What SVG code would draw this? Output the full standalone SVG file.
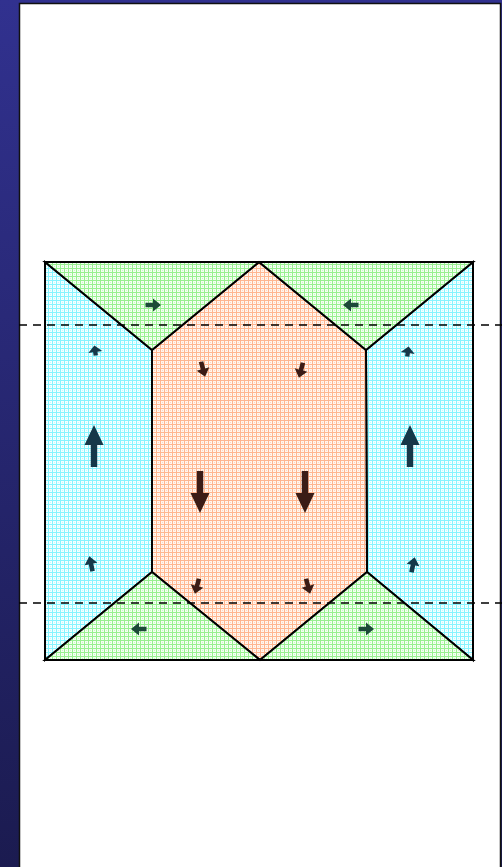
<svg xmlns="http://www.w3.org/2000/svg" width="502" height="867" viewBox="0 0 502 867">
  <style>
    .edge { stroke: #000; stroke-width: 2; stroke-linejoin: miter; }
    .dash { stroke: #000; stroke-width: 1.6; stroke-dasharray: 8 6; fill: none; }
    .ac { fill: #12394a; }
    .ag { fill: #1d4a38; }
    .ao { fill: #3a1c12; }
    .arr { filter: url(#soft); }
  </style>
  <defs>
    <linearGradient id="bg" x1="0" y1="0" x2="0" y2="1">
      <stop offset="0" stop-color="#31318f"/>
      <stop offset="1" stop-color="#1b1b50"/>
    </linearGradient>
    <pattern id="pc" width="4" height="4" patternUnits="userSpaceOnUse">
      <rect width="4" height="4" fill="#f4ffff"/>
      <rect width="4" height="1" fill="#86f4ff"/>
      <rect width="1" height="4" fill="#86f4ff"/>
      <rect x="2" y="2" width="1" height="1" fill="#c4fbff"/>
    </pattern>
    <pattern id="pg" width="4" height="4" patternUnits="userSpaceOnUse">
      <rect width="4" height="4" fill="#f4fff2"/>
      <rect width="4" height="1" fill="#98f090"/>
      <rect width="1" height="4" fill="#98f090"/>
      <rect x="2" y="2" width="1" height="1" fill="#ccf8c8"/>
    </pattern>
    <pattern id="po" width="4" height="4" patternUnits="userSpaceOnUse">
      <rect width="4" height="4" fill="#fff6ee"/>
      <rect width="4" height="1" fill="#ffb690"/>
      <rect width="1" height="4" fill="#ffb690"/>
      <rect x="2" y="2" width="1" height="1" fill="#ffd6c0"/>
    </pattern>
    <filter id="soft" x="-50%" y="-50%" width="200%" height="200%">
      <feGaussianBlur stdDeviation="0.7"/>
    </filter>
    <path id="big" d="M0,-21 L9.5,-1 L3.2,-1 L3.2,21 L-3.2,21 L-3.2,-1 L-9.5,-1 Z"/>
    <path id="small" d="M0,-8 L6.5,0 L2.3,0 L2.3,7.5 L-2.3,7.5 L-2.3,0 L-6.5,0 Z"/>
    <path id="tiny" d="M0,-4.5 L7,2 L2.2,2 L2.2,5.5 L-2.2,5.5 L-2.2,2 L-7,2 Z"/>
  </defs>

  <rect x="0" y="0" width="502" height="867" fill="url(#bg)"/>
  <rect id="panel" x="19.5" y="3.5" width="481" height="870" fill="#fff" stroke="#111" stroke-width="1.5"/>

  <g id="cyan-left">
    <polygon points="45,262 152,350 152,572 45,660" fill="url(#pc)" class="edge"/>
  </g>
  <g id="cyan-right">
    <polygon points="473,262 366,350 367,572 473,660" fill="url(#pc)" class="edge"/>
  </g>
  <g id="orange-center">
    <polygon points="259,262 366,350 367,572 260,660 152,572 152,350" fill="url(#po)" class="edge"/>
  </g>
  <g id="green-top-left">
    <polygon points="45,262 259,262 152,350" fill="url(#pg)" class="edge"/>
  </g>
  <g id="green-top-right">
    <polygon points="259,262 473,262 366,350" fill="url(#pg)" class="edge"/>
  </g>
  <g id="green-bottom-left">
    <polygon points="45,660 152,572 260,660" fill="url(#pg)" class="edge"/>
  </g>
  <g id="green-bottom-right">
    <polygon points="260,660 367,572 473,660" fill="url(#pg)" class="edge"/>
  </g>
  <g id="outline">
    <rect x="45" y="262" width="428" height="398" fill="none" class="edge"/>
  </g>

  <g id="arrows" class="arr">
    <use href="#small" class="ag" transform="translate(153,305) rotate(90)"/>
    <use href="#small" class="ag" transform="translate(351,305) rotate(-90)"/>
    <use href="#tiny" class="ac" transform="translate(95,350) rotate(-8)"/>
    <use href="#tiny" class="ac" transform="translate(408,351) rotate(8)"/>
    <use href="#big" class="ac" transform="translate(94,446)"/>
    <use href="#big" class="ac" transform="translate(410,446)"/>
    <use href="#small" class="ac" transform="translate(91,564) rotate(-12)"/>
    <use href="#small" class="ac" transform="translate(413,565) rotate(12)"/>
    <use href="#small" class="ao" transform="translate(203,369) rotate(165)"/>
    <use href="#small" class="ao" transform="translate(301,370) rotate(195)"/>
    <use href="#big" class="ao" transform="translate(200,492) rotate(180)"/>
    <use href="#big" class="ao" transform="translate(305,492) rotate(180)"/>
    <use href="#small" class="ao" transform="translate(197,586) rotate(195)"/>
    <use href="#small" class="ao" transform="translate(308,586) rotate(165)"/>
    <use href="#small" class="ag" transform="translate(139,629) rotate(-90)"/>
    <use href="#small" class="ag" transform="translate(366,629) rotate(90)"/>
  </g>

  <g id="connectors">
    <line x1="19" y1="325" x2="502" y2="325" class="dash"/>
    <line x1="19" y1="603" x2="502" y2="603" class="dash"/>
  </g>
</svg>
